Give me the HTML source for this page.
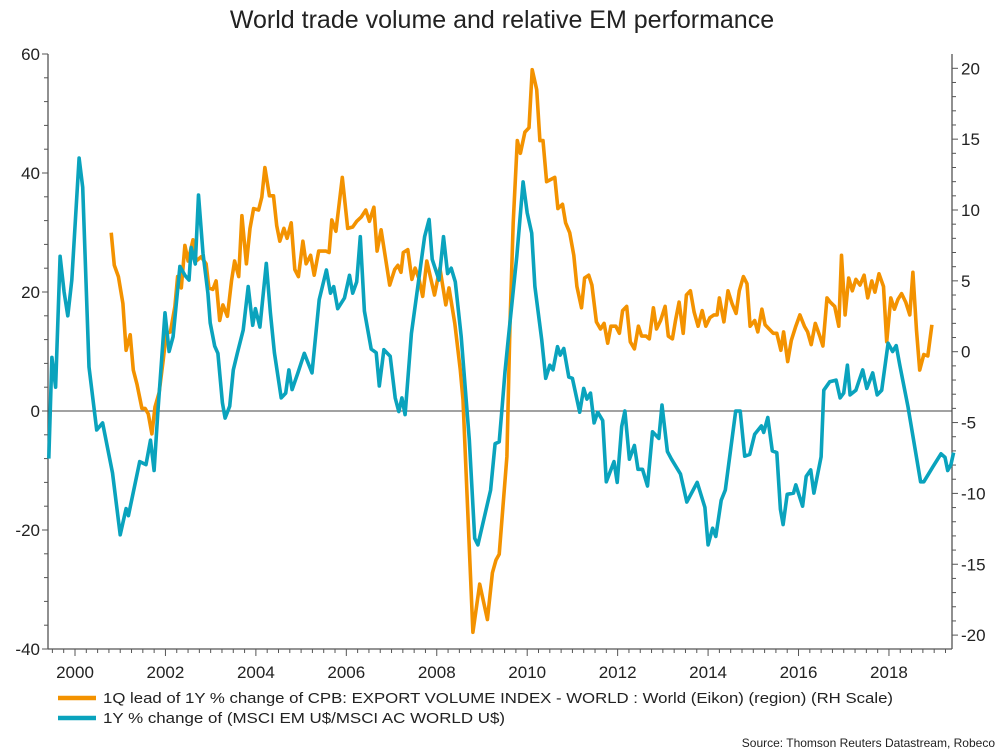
<!DOCTYPE html>
<html><head><meta charset="utf-8"><style>
body{margin:0;background:#fff;}
svg{display:block;font-family:"Liberation Sans",Arial,sans-serif;}
</style></head><body>
<svg id="chart" width="1005" height="752" viewBox="0 0 1005 752">
<text x="502" y="28" text-anchor="middle" font-size="25" fill="#222">World trade volume and relative EM performance</text>
<g id="axes"></g>
<g id="series"></g>
<g>
<g>
<line x1="58" y1="698" x2="96" y2="698" stroke="#f39200" stroke-width="4.5"/>
<text x="103" y="703" font-size="14.5" fill="#222" textLength="790" lengthAdjust="spacingAndGlyphs">1Q lead of 1Y % change of CPB: EXPORT VOLUME INDEX - WORLD : World (Eikon) (region) (RH Scale)</text>
</g>
<g>
<line x1="58" y1="718" x2="96" y2="718" stroke="#0aa3bd" stroke-width="4.5"/>
<text x="103" y="723" font-size="14.5" fill="#222" textLength="402" lengthAdjust="spacingAndGlyphs">1Y % change of (MSCI EM U$/MSCI AC WORLD U$)</text>
</g>
</g>
<text x="995" y="747" text-anchor="end" font-size="12" fill="#222">Source: Thomson Reuters Datastream, Robeco</text>
</svg>
<script>
const leftTicks=[60,40,20,0,-20,-40];
const rightTicks=[20,15,10,5,0,-5,-10,-15,-20];
const yearLabels=[2000,2002,2004,2006,2008,2010,2012,2014,2016,2018];
const blueDates=[1999.42,1999.49,1999.57,1999.67,1999.76,1999.84,1999.93,2000.09,2000.17,2000.31,2000.48,2000.61,2000.83,2001.0,2001.13,2001.18,2001.43,2001.57,2001.67,2001.75,2001.83,2001.99,2002.08,2002.17,2002.32,2002.43,2002.52,2002.57,2002.66,2002.73,2002.83,2002.94,2002.99,2003.09,2003.16,2003.26,2003.32,2003.42,2003.5,2003.59,2003.72,2003.83,2003.93,2003.99,2004.09,2004.23,2004.32,2004.41,2004.56,2004.66,2004.73,2004.8,2004.93,2005.07,2005.24,2005.4,2005.56,2005.65,2005.72,2005.81,2005.96,2006.07,2006.14,2006.23,2006.31,2006.4,2006.55,2006.66,2006.73,2006.83,2006.97,2007.08,2007.16,2007.23,2007.3,2007.44,2007.58,2007.73,2007.83,2007.9,2008.05,2008.15,2008.24,2008.32,2008.41,2008.54,2008.72,2008.84,2008.91,2009.19,2009.29,2009.38,2009.45,2009.51,2009.58,2009.77,2009.91,2010.0,2010.1,2010.17,2010.32,2010.41,2010.5,2010.57,2010.67,2010.73,2010.81,2010.92,2011.0,2011.16,2011.25,2011.32,2011.4,2011.48,2011.56,2011.67,2011.75,2011.92,2011.99,2012.09,2012.16,2012.26,2012.37,2012.45,2012.55,2012.66,2012.77,2012.91,2012.98,2013.1,2013.19,2013.39,2013.53,2013.76,2013.93,2014.0,2014.1,2014.17,2014.29,2014.38,2014.61,2014.71,2014.81,2014.92,2015.03,2015.18,2015.23,2015.32,2015.42,2015.52,2015.6,2015.66,2015.75,2015.89,2015.94,2016.09,2016.17,2016.27,2016.34,2016.5,2016.56,2016.69,2016.83,2016.92,2017.0,2017.08,2017.14,2017.27,2017.42,2017.51,2017.64,2017.74,2017.84,2017.98,2018.08,2018.16,2018.24,2018.42,2018.7,2018.77,2018.97,2019.15,2019.24,2019.3,2019.37,2019.43];
const blueValues=[-8,9,4,26,20,16,22,42.5,37.6,7.4,-3.2,-2,-10.4,-20.8,-16.4,-17.6,-8.5,-9,-4.9,-10,-0.3,16.5,10,12.5,24.3,22.8,22,27.5,24.7,36.3,26.5,19.8,14.8,10.9,9.7,1.4,-1.2,0.8,6.9,9.7,13.6,20.9,14.4,17.2,14.1,24.8,16.5,9.8,2.2,3,6.9,3.6,6.4,9.7,6.4,18.7,23.7,19.8,20.9,17.2,19,22.8,19.8,21.7,29.3,16.8,10.4,9.8,4.2,10.3,9.2,2.2,-0.1,2.2,-0.6,13,20.9,29.3,32.2,25.5,22,29.3,23.1,24,21.7,12.5,-4.8,-21.4,-22.5,-13.3,-5.5,-5.2,1,6.6,12,26,38.5,33.3,29.9,20.9,12,5.5,7.7,6.9,10.8,9.4,10.5,5.7,5.5,-0.2,3.8,2,3,-2,-0.2,-1.6,-11.9,-8.5,-12,-2.6,0,-8.1,-5.8,-9.8,-9.8,-12.6,-3.5,-4.6,1,-6.8,-8.1,-10.6,-15.3,-12,-16.2,-22.5,-19.7,-21.1,-15,-13.3,0,0,-7.6,-7.3,-3.9,-2.5,-3.6,-1.1,-6.7,-7,-16.5,-19.1,-14,-13.8,-12.4,-16,-11,-9.9,-13.8,-7.7,3.5,4.9,5.2,2.2,3,7.7,2.7,3.5,6.9,3.8,6.4,2.7,3.5,11.4,10,11,7.7,0.7,-11.9,-11.9,-9.4,-7.2,-7.8,-10,-9,-7];
const orangeDates=[2000.8,2000.87,2000.96,2001.06,2001.13,2001.22,2001.29,2001.37,2001.48,2001.55,2001.62,2001.7,2001.77,2001.86,2001.95,2002.02,2002.11,2002.21,2002.27,2002.35,2002.43,2002.5,2002.61,2002.68,2002.79,2002.9,2002.96,2003.05,2003.12,2003.2,2003.27,2003.37,2003.46,2003.53,2003.62,2003.69,2003.79,2003.87,2003.95,2004.06,2004.13,2004.2,2004.3,2004.39,2004.46,2004.53,2004.62,2004.69,2004.78,2004.86,2004.94,2005.04,2005.11,2005.21,2005.29,2005.39,2005.55,2005.62,2005.68,2005.77,2005.91,2006.03,2006.14,2006.23,2006.33,2006.43,2006.51,2006.61,2006.68,2006.77,2006.96,2007.07,2007.14,2007.21,2007.26,2007.36,2007.45,2007.52,2007.6,2007.69,2007.78,2007.95,2008.07,2008.2,2008.27,2008.4,2008.52,2008.58,2008.8,2008.95,2009.12,2009.23,2009.31,2009.38,2009.55,2009.62,2009.69,2009.78,2009.85,2009.95,2010.04,2010.11,2010.21,2010.28,2010.35,2010.43,2010.61,2010.68,2010.78,2010.85,2010.94,2011.03,2011.1,2011.2,2011.27,2011.36,2011.43,2011.53,2011.62,2011.7,2011.78,2011.85,2011.96,2012.04,2012.11,2012.2,2012.28,2012.37,2012.46,2012.53,2012.63,2012.7,2012.79,2012.86,2012.95,2013.05,2013.12,2013.21,2013.28,2013.36,2013.45,2013.52,2013.61,2013.69,2013.78,2013.87,2013.95,2014.04,2014.13,2014.2,2014.25,2014.35,2014.44,2014.53,2014.62,2014.69,2014.78,2014.86,2014.93,2015.03,2015.1,2015.19,2015.26,2015.35,2015.44,2015.52,2015.61,2015.67,2015.76,2015.84,2015.94,2016.03,2016.13,2016.2,2016.28,2016.37,2016.47,2016.54,2016.63,2016.7,2016.8,2016.89,2016.95,2017.03,2017.11,2017.19,2017.27,2017.36,2017.45,2017.53,2017.62,2017.69,2017.78,2017.88,2017.95,2018.04,2018.12,2018.2,2018.28,2018.37,2018.46,2018.53,2018.61,2018.68,2018.77,2018.86,2018.95];
const orangeValues=[8.4,6.1,5.3,3.4,0.1,1.2,-1.3,-2.3,-4,-4,-4.4,-5.8,-3.9,-2.9,-0.6,1.3,1.4,3.2,5.3,4.5,7.5,6.4,7.9,6.4,6.7,6.2,4.5,4.4,5,2.2,3.3,2.5,5,6.4,5.3,9.6,6.2,8.7,10.1,10,10.9,13,11,11,8.9,7.8,8.7,8,9.1,5.8,5.3,7.8,6.2,6.8,5.4,7.1,7.1,7,9.3,8.5,12.3,8.7,8.8,9.2,9.5,10,9.2,10.2,7.1,8.6,4.7,5.8,6.1,5.6,7,7.2,5.1,5.9,5.2,3.9,6.4,4,5.9,3.3,4.5,2,-1.3,-3.4,-19.8,-16.4,-18.9,-15.6,-14.7,-14.3,-7.4,2,9.1,14.9,14,15.5,15.8,19.9,18.5,14.9,14.9,12,12.3,10.1,10.4,9.1,8.4,6.8,4.6,3.1,5.2,5.4,4.7,2.1,1.6,2,0.6,1.8,1.8,1.3,2.9,3.2,0.7,0.2,1.8,1.1,1.1,0.9,3.1,1.6,2.2,3.2,1.1,0.9,2.2,3.5,1.3,4,4.3,2.8,1.8,2.9,1.8,2.4,2.6,2.6,3.8,2.1,4.3,3.4,2.7,4.3,5.3,4.8,1.8,2.2,1.4,3,1.9,1.6,1.3,1.3,0.1,1.4,-0.7,0.8,1.8,2.6,1.8,1.4,0.5,2,1.1,0.4,3.8,3.5,3.2,1.8,6.8,2.6,5.2,4.3,5.1,4.7,5.4,3.8,5,4.2,5.5,4.6,0.7,3.8,3,3.7,4.1,3.5,2.6,5.6,1.5,-1.3,-0.2,-0.3,1.9];

const NS='http://www.w3.org/2000/svg';
const X0=48,X1=952,Y0=54,Y1=649;
function xs(yr){return 75+(yr-2000)*45.22;}
function yl(v){return 411-v*5.95;}
function yr(v){return 351.7-v*14.17;}
function mk(tag,attrs,parent){const e=document.createElementNS(NS,tag);for(const k in attrs)e.setAttribute(k,attrs[k]);parent.appendChild(e);return e;}
const axes=document.getElementById('axes');
const series=document.getElementById('series');
const C='#555';
let e;
e=mk('line',{x1:X0,y1:Y0,x2:X0,y2:Y1,stroke:C,'stroke-width':1.3},axes);


e=mk('line',{x1:X1,y1:Y0,x2:X1,y2:Y1,stroke:C,'stroke-width':1.3},axes);


e=mk('line',{x1:X0,y1:Y1,x2:X1,y2:Y1,stroke:C,'stroke-width':1.3},axes);


e=mk('line',{x1:X0,y1:yl(0),x2:X1,y2:yl(0),stroke:'#444','stroke-width':1},axes);


for(let v=-40;v<=60;v+=4){mk('line',{x1:X0-(v%20===0?6:4),y1:yl(v),x2:X0,y2:yl(v),stroke:C,'stroke-width':1},axes);}
for(let v=-20;v<=20;v+=1){if(yr(v)>=Y0-1)mk('line',{x1:X1,y1:yr(v),x2:X1+(v%5===0?6:4),y2:yr(v),stroke:C,'stroke-width':1},axes);}
leftTicks.forEach(v=>{const t=mk('text',{x:X0-8,y:yl(v)+6,'text-anchor':'end','font-size':17,fill:'#222'},axes);t.textContent=v;

});
rightTicks.forEach(v=>{const t=mk('text',{x:X1+9,y:yr(v)+6,'text-anchor':'start','font-size':17,fill:'#222'},axes);t.textContent=v;

});
for(let q=1999.5;q<=2019.4;q+=0.25){const px=xs(q);if(px<X0||px>X1)continue;const maj=Math.abs(q-Math.round(q))<0.01&&Math.round(q)%2===0;mk('line',{x1:px,y1:Y1,x2:px,y2:Y1+(maj?7:4),stroke:C,'stroke-width':1},axes);}
yearLabels.forEach(y=>{const t=mk('text',{x:xs(y),y:Y1+29,'text-anchor':'middle','font-size':17,fill:'#222'},axes);t.textContent=y;

});
function path(dates,vals,fy){return dates.map((d,i)=>(i?'L':'M')+xs(d).toFixed(1)+' '+fy(vals[i]).toFixed(1)).join(' ');}
e=mk('path',{d:path(orangeDates,orangeValues,yr),fill:'none',stroke:'#f39200','stroke-width':3.6,'stroke-linejoin':'round'},series);


e=mk('path',{d:path(blueDates,blueValues,yl),fill:'none',stroke:'#0aa3bd','stroke-width':3.6,'stroke-linejoin':'round'},series);


</script>
</body></html>
